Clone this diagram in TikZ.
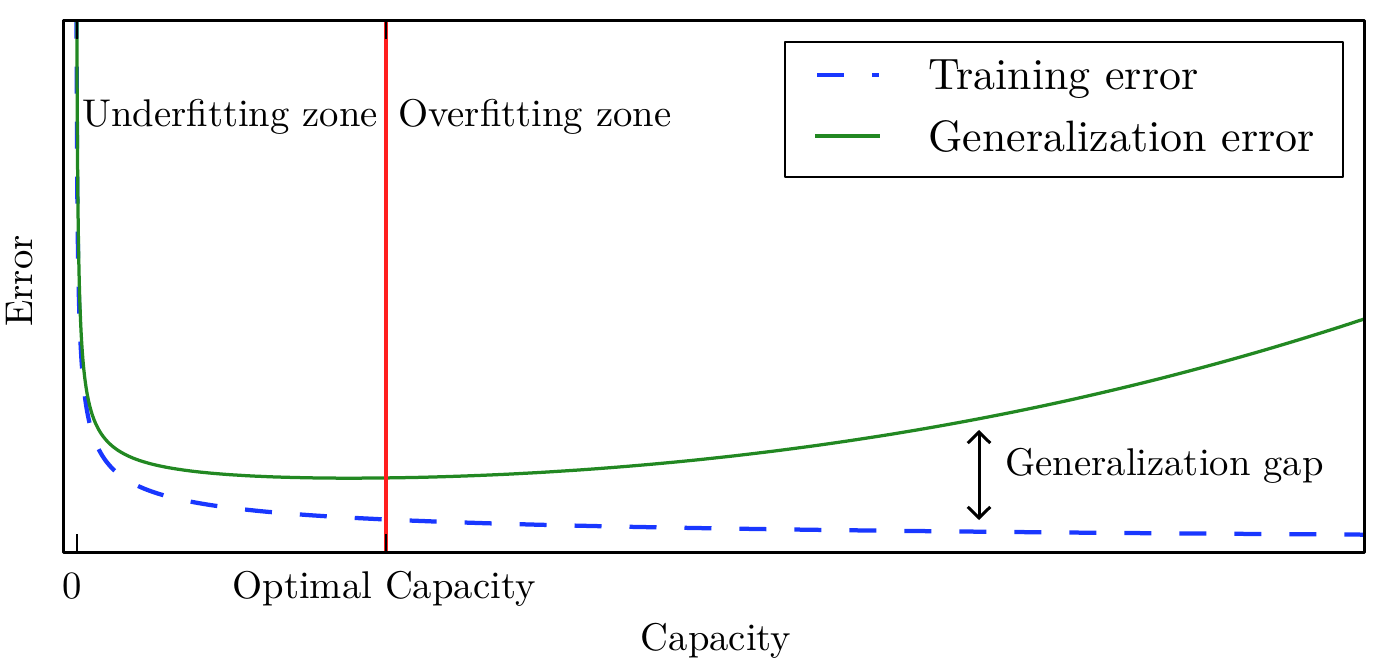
\documentclass[tikz,border=0pt]{standalone}
\usepackage{fontspec}
\setmainfont{lmroman10-regular.otf}
\usetikzlibrary{arrows.meta}
\definecolor{trainblue}{RGB}{25,55,255}
\definecolor{gengreen}{RGB}{34,136,34}
\definecolor{optred}{RGB}{255,30,30}
\begin{document}
\begin{tikzpicture}[x=0.02cm,y=0.02cm,line join=round,
    >={Straight Barb[length=0.22cm,width=0.45cm]},
    lbl/.style={font=\fontsize{22}{26}\selectfont,inner sep=0pt},
    leg/.style={font=\fontsize{25}{30}\selectfont,inner sep=0pt,anchor=base west},
    trainline/.style={trainblue,line width=0.085cm,dash pattern=on 0.54cm off 0.56cm},
    genline/.style={gengreen,line width=0.065cm}]
            \def\xl{63} \def\xr{1364} \def\yb{114} \def\yt{645}
            \useasboundingbox (0,0) rectangle (1378,666);
            \begin{scope}
                \clip (\xl,\yb) rectangle (\xr,\yt);
                \draw[trainline,smooth,samples=250,domain=-0.65:7.2,variable=\t]
                    plot ({76+exp(\t)},{\yb+406*exp(-0.44*\t)});
                \draw[genline,smooth,samples=250,domain=-0.15:7.2,variable=\t]
                    plot ({76+exp(\t)},{\yb+55.2+437.6*exp(-0.6*\t)+0.2886*exp(2.5*\t-11.513)});
                \draw[optred,line width=0.065cm] (386,\yb) -- (386,\yt);
            \end{scope}
            \foreach \p in {77,386} {
                \draw[line width=0.04cm] (\p,\yb) -- ++(0,18);
                \draw[line width=0.04cm] (\p,\yt) -- ++(0,-18);
            }
            \draw[line width=0.06cm] (\xl,\yb) rectangle (\xr,\yt);
            \node[lbl,anchor=base west] (under) at (82,539) {Underfitting zone};
            \node[lbl,anchor=base west] (over) at (398,539) {Overfitting zone};
            \node[lbl,anchor=base] (zero) at (72,68) {0};
            \node[lbl,anchor=base] (optcap) at (384,68) {Optimal Capacity};
            \node[lbl,anchor=base] (xlab) at (716,16) {Capacity};
            \node[lbl,anchor=base,rotate=90] (ylab) at (32,385) {Error};
            % legend
            \draw[line width=0.05cm,fill=white] (785,489) rectangle (1343,624);
            \draw[trainblue,line width=0.085cm] (817,591) -- (844,591) (872,591) -- (879,591);
            \draw[genline] (815,530) -- (880,530);
            \node[leg] (trainlab) at (928,576) {Training error};
            \node[leg] (genlab) at (928,514) {Generalization error};
            % gap
            \coordinate (gaptop) at (979,236);
            \coordinate (gapbot) at (979,146);
            \draw[<->,line width=0.06cm] (gapbot) -- (gaptop);
            \node[lbl,anchor=base west] (gaplab) at (1005,191) {Generalization gap};
\end{tikzpicture}
\end{document}
